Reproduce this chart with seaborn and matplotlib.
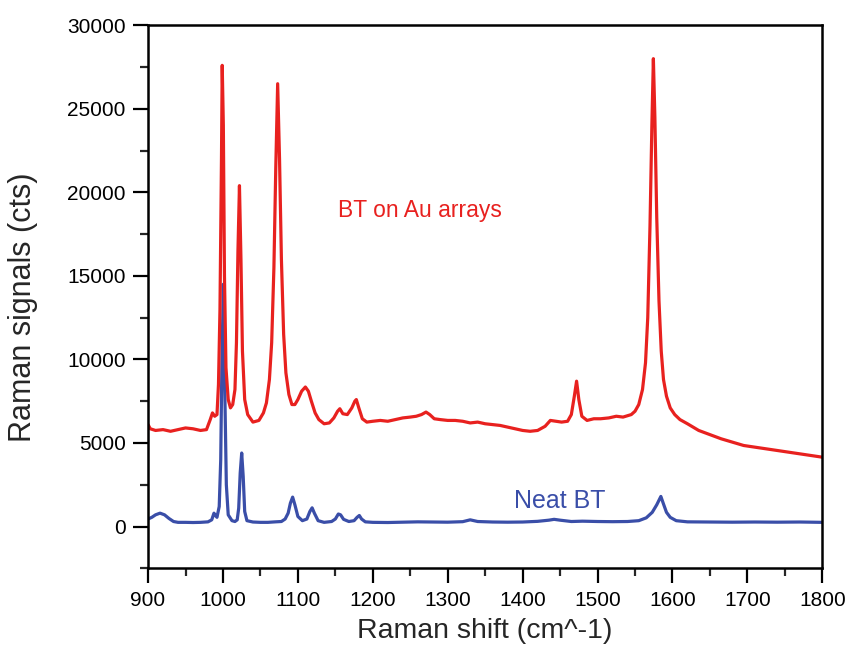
import matplotlib
matplotlib.use("Agg")
import matplotlib.pyplot as plt
from matplotlib.ticker import MultipleLocator
import seaborn as sns
import pandas as pd

# Raman spectrum of BT adsorbed on Au arrays (wavenumber, counts)
au_shift = [900, 903, 910, 920, 930, 940, 950, 960, 970, 978, 983, 986, 989, 992,
            994, 996, 998, 999, 1000.5, 1002, 1004, 1007, 1010, 1013, 1016, 1018,
            1020, 1022, 1024, 1026, 1029, 1033, 1040, 1048, 1054, 1058, 1062, 1065,
            1068, 1070.5, 1073, 1075.5, 1078, 1081, 1084, 1088, 1092, 1096, 1100,
            1105, 1110, 1114, 1118, 1123, 1128, 1135, 1142, 1148, 1153, 1156, 1160,
            1166, 1172, 1176, 1178, 1181, 1186, 1192, 1200, 1210, 1220, 1230, 1240,
            1250, 1258, 1265, 1271, 1276, 1282, 1290, 1300, 1310, 1320, 1330, 1340,
            1350, 1360, 1370, 1380, 1390, 1400, 1410, 1420, 1430, 1437, 1445, 1452,
            1460, 1465, 1469, 1472, 1475, 1479, 1486, 1495, 1504, 1515, 1525, 1534,
            1545, 1550, 1555, 1560, 1564, 1567, 1570, 1572.5, 1574.5, 1576.5, 1579,
            1582, 1585, 1588, 1592, 1597, 1603, 1610, 1620, 1635, 1650, 1665, 1680,
            1695, 1710, 1725, 1740, 1755, 1770, 1785, 1800]
au_counts = [6100, 5850, 5750, 5800, 5700, 5800, 5900, 5850, 5750, 5800, 6400, 6800,
             6600, 6700, 8500, 13000, 22000, 27600, 24000, 15000, 9500, 7600, 7100,
             7300, 8200, 11000, 16500, 20400, 16000, 10500, 7600, 6700, 6250, 6350,
             6800, 7400, 8800, 11000, 15500, 21500, 26500, 22000, 16000, 11500, 9200,
             7900, 7300, 7300, 7600, 8100, 8350, 8100, 7500, 6800, 6400, 6150, 6200,
             6500, 6900, 7050, 6750, 6700, 7100, 7500, 7600, 7150, 6450, 6250, 6300,
             6350, 6300, 6400, 6500, 6550, 6600, 6700, 6850, 6700, 6450, 6400, 6350,
             6350, 6300, 6200, 6250, 6150, 6100, 6050, 5950, 5850, 5750, 5700, 5750,
             6000, 6350, 6300, 6250, 6300, 6700, 7800, 8700, 7600, 6600, 6350, 6450,
             6450, 6500, 6600, 6550, 6700, 6900, 7300, 8200, 9800, 12500, 18000, 24000,
             28000, 24500, 18500, 13500, 10500, 8800, 7800, 7100, 6700, 6400, 6150,
             5750, 5500, 5250, 5050, 4850, 4750, 4650, 4550, 4450, 4350, 4250, 4150]

# Raman spectrum of neat BT
neat_shift = [900, 905, 910, 916, 922, 928, 934, 940, 950, 960, 970, 980, 985, 988,
              990, 992, 995, 997, 998.5, 1000.5, 1002.5, 1004.5, 1007, 1012, 1016, 1019,
              1021, 1023, 1025, 1027, 1029, 1032, 1040, 1050, 1060, 1070, 1078, 1083,
              1087, 1090, 1093, 1096, 1100, 1106, 1112, 1116, 1119, 1122, 1127, 1135,
              1145, 1150, 1154, 1157, 1161, 1168, 1175, 1179, 1182, 1185, 1190, 1200,
              1220, 1240, 1260, 1280, 1300, 1320, 1330, 1340, 1360, 1380, 1400, 1420,
              1435, 1442, 1450, 1465, 1480, 1500, 1520, 1540, 1555, 1565, 1573, 1579,
              1584.5, 1588, 1592, 1597, 1605, 1620, 1650, 1680, 1710, 1740, 1770, 1800]
neat_counts = [450, 550, 700, 800, 700, 480, 300, 250, 250, 240, 250, 280, 400, 800,
               650, 550, 1200, 4000, 9500, 14500, 8000, 2500, 700, 350, 300, 400, 1100,
               3200, 4400, 3000, 900, 350, 270, 250, 250, 280, 300, 450, 800, 1400,
               1760, 1300, 600, 350, 450, 900, 1120, 800, 350, 250, 300, 450, 750, 700,
               430, 300, 350, 550, 660, 450, 280, 250, 240, 260, 280, 270, 260, 290,
               400, 300, 270, 260, 270, 310, 380, 430, 380, 300, 320, 300, 290, 300,
               350, 520, 850, 1300, 1800, 1350, 850, 550, 350, 280, 270, 260, 270, 260,
               270, 250]

x_ticks = [900, 1000, 1100, 1200, 1300, 1400, 1500, 1600, 1700, 1800]
y_ticks = [0, 5000, 10000, 15000, 20000, 25000, 30000]

RED = "#e8211f"
BLUE = "#3a4ea8"

sns.set_theme(style="white")
plt.rcParams["font.family"] = ["Liberation Sans", "DejaVu Sans"]

au = pd.DataFrame({"shift": au_shift, "counts": au_counts})
neat = pd.DataFrame({"shift": neat_shift, "counts": neat_counts})

fig = plt.figure(figsize=(8.46, 6.48), dpi=100)
ax = fig.add_axes([0.175, 0.123, 0.797, 0.838])

sns.lineplot(data=neat, x="shift", y="counts", ax=ax, color=BLUE, lw=2.3,
             sort=False, estimator=None)
sns.lineplot(data=au, x="shift", y="counts", ax=ax, color=RED, lw=2.3,
             sort=False, estimator=None)

ax.set_xlim(900, 1800)
ax.set_ylim(-2500, 30000)
ax.set_xticks(x_ticks)
ax.set_yticks(y_ticks)
ax.xaxis.set_minor_locator(MultipleLocator(50))
ax.yaxis.set_minor_locator(MultipleLocator(2500))
ax.tick_params(axis="both", which="major", direction="out", length=11, width=1.6,
               labelsize=15, colors="black", bottom=True, left=True,
               top=False, right=False, pad=5)
ax.tick_params(axis="both", which="minor", direction="out", length=6, width=1.6,
               bottom=True, left=True, top=False, right=False)
for side in ax.spines.values():
    side.set_visible(True)
    side.set_color("black")
    side.set_linewidth(1.8)

ax.set_xlabel("Raman shift (cm^-1)", fontsize=20.5, labelpad=6)
ax.set_ylabel("Raman signals (cts)", fontsize=22)
ax.yaxis.set_label_coords(-0.163, 0.48)

ax.text(1263, 18900, "BT on Au arrays", color=RED, fontsize=16.5,
        ha="center", va="center")
ax.text(1450, 1550, "Neat BT", color=BLUE, fontsize=18,
        ha="center", va="center")

fig.savefig("out.png", dpi=100, facecolor="white")
